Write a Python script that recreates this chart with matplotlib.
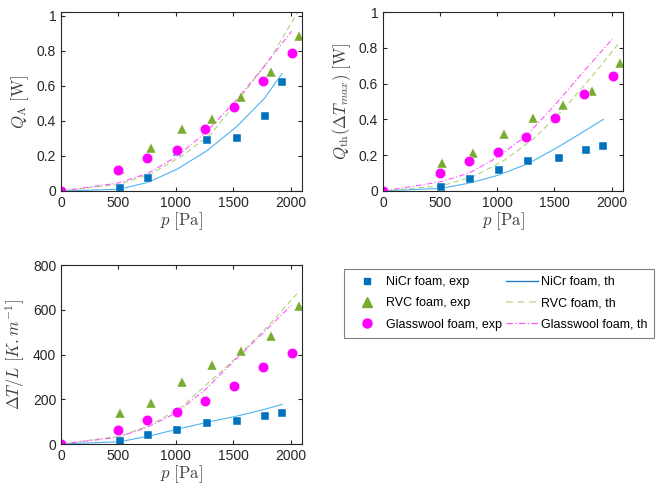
import matplotlib.pyplot as plt
from matplotlib.lines import Line2D

plt.rcParams['font.family'] = ['Liberation Sans', 'DejaVu Sans']
plt.rcParams['mathtext.fontset'] = 'cm'

# pressure points [Pa]
p_nicr = [0, 511, 762, 1013, 1273, 1536, 1775, 1927]
p_rvc = [0, 517, 788, 1057, 1314, 1571, 1828, 2073]
p_glass = [0, 496, 753, 1007, 1255, 1504, 1758, 2009]

# Q_A [W]
qa_nicr_exp = [0, 0.015, 0.072, 0.22, 0.29, 0.30, 0.43, 0.62]
qa_rvc_exp = [0, 0.125, 0.243, 0.354, 0.41, 0.534, 0.68, 0.884]
qa_glass_exp = [0, 0.12, 0.188, 0.236, 0.352, 0.481, 0.627, 0.785]
qa_nicr_th = [0, 0.01, 0.05, 0.125, 0.23, 0.37, 0.53, 0.67]
qa_rvc_th = [0, 0.04, 0.10, 0.20, 0.33, 0.54, 0.76, 1.03]
qa_glass_th = [0, 0.045, 0.10, 0.195, 0.33, 0.50, 0.70, 0.91]

# Q_th(dT_max) [W]
qt_nicr_exp = [0, 0.022, 0.067, 0.117, 0.167, 0.186, 0.229, 0.253]
qt_rvc_exp = [0, 0.154, 0.21, 0.32, 0.407, 0.481, 0.556, 0.716]
qt_glass_exp = [0, 0.10, 0.165, 0.219, 0.30, 0.407, 0.543, 0.641]
qt_nicr_th = [0, 0.015, 0.045, 0.089, 0.154, 0.247, 0.34, 0.40]
qt_rvc_th = [0, 0.03, 0.08, 0.17, 0.29, 0.45, 0.64, 0.833]
qt_glass_th = [0, 0.05, 0.10, 0.19, 0.31, 0.48, 0.67, 0.85]

# dT/L [K/m]
dt_nicr_exp = [0, 15, 39, 64, 92, 101, 123, 137]
dt_rvc_exp = [0, 137, 183, 278, 355, 416, 482, 617]
dt_glass_exp = [0, 64, 107, 141, 193, 260, 346, 407]
dt_nicr_th = [0, 10, 35, 66, 97, 125, 155, 177]
dt_rvc_th = [0, 35, 86, 168, 287, 406, 540, 681]
dt_glass_th = [0, 30, 75, 140, 242, 369, 495, 621]

blue = '#0072BD'
blue_th = '#4DB3F0'
green = '#77AC30'
green_th = '#A8D878'
magenta = '#FF00FF'
magenta_th = '#FF55FF'

fig = plt.figure(figsize=(6.64, 4.9), dpi=100)
W, H = 664, 490
def box(l, r, t, b):
    return [l / W, 1 - b / H, (r - l) / W, (b - t) / H]

ax1 = fig.add_axes(box(61, 302, 12, 191))
ax2 = fig.add_axes(box(383, 623, 12, 191))
ax3 = fig.add_axes(box(61, 302, 265, 444))

panels = [
    (ax1, qa_nicr_exp, qa_rvc_exp, qa_glass_exp, qa_nicr_th, qa_rvc_th, qa_glass_th),
    (ax2, qt_nicr_exp, qt_rvc_exp, qt_glass_exp, qt_nicr_th, qt_rvc_th, qt_glass_th),
    (ax3, dt_nicr_exp, dt_rvc_exp, dt_glass_exp, dt_nicr_th, dt_rvc_th, dt_glass_th),
]
for ax, ne, re, ge, nt, rt, gt in panels:
    ax.plot(p_nicr, nt, '-', color=blue_th, lw=0.8)
    ax.plot(p_rvc, rt, '--', color=green_th, lw=0.8, dashes=(5, 3))
    ax.plot(p_glass, gt, '-.', color=magenta_th, lw=0.8, dashes=(5, 2, 1, 2))
    ax.plot(p_nicr, ne, 's', color=blue, ms=5.5, mec='white', mew=0.3)
    ax.plot(p_rvc, re, '^', color=green, ms=7.5, mec='white', mew=0.3)
    ax.plot(p_glass, ge, 'o', color=magenta, ms=7.5, mec='white', mew=0.3)
    ax.set_xlim(0, 2100)
    ax.set_xticks([0, 500, 1000, 1500, 2000])
    ax.tick_params(direction='in', top=True, right=True, labelsize=10,
                   length=3, colors='#262626')
    for s in ax.spines.values():
        s.set_linewidth(0.8)
        s.set_color('#262626')
    ax.set_xlabel(r'$p\ [\mathrm{Pa}]$', fontsize=12, color='#404040', labelpad=0)

ax1.set_ylim(0, 1.02)
ax1.set_yticks([0, 0.2, 0.4, 0.6, 0.8, 1])
ax1.set_yticklabels(['0', '0.2', '0.4', '0.6', '0.8', '1'])
ax1.set_ylabel(r'$Q_{\mathrm{A}}\ [\mathrm{W}]$', fontsize=12, color='#404040')

ax2.set_ylim(0, 1)
ax2.set_yticks([0, 0.2, 0.4, 0.6, 0.8, 1])
ax2.set_yticklabels(['0', '0.2', '0.4', '0.6', '0.8', '1'])
ax2.set_ylabel(r'$Q_{\mathrm{th}}(\Delta T_{max})\ [\mathrm{W}]$', fontsize=12, color='#404040')

ax3.set_ylim(0, 800)
ax3.set_yticks([0, 200, 400, 600, 800])
ax3.set_ylabel(r'$\Delta T/L\ [K.m^{-1}]$', fontsize=12, color='#404040')

handles = [
    Line2D([], [], ls='none', marker='s', color=blue, ms=4.5),
    Line2D([], [], ls='none', marker='^', color=green, ms=6.5),
    Line2D([], [], ls='none', marker='o', color=magenta, ms=6.5),
    Line2D([], [], ls='-', color='#1F7FC8', lw=1.0),
    Line2D([], [], ls='--', color='#C8DDB5', lw=1.2, dashes=(4, 3)),
    Line2D([], [], ls='-.', color=magenta_th, lw=0.9, dashes=(5, 2, 1, 2)),
]
labels = ['NiCr foam, exp', 'RVC foam, exp', 'Glasswool foam, exp',
          'NiCr foam, th', 'RVC foam, th', 'Glasswool foam, th']
leg = fig.legend(handles, labels, ncol=2, loc='upper left',
                 bbox_to_anchor=(344 / W, 1 - 269 / H), fontsize=9,
                 fancybox=False, edgecolor='#808080', framealpha=1,
                 handlelength=2.6, handletextpad=0.2, columnspacing=0.3,
                 labelspacing=0.75, borderpad=0.55, borderaxespad=0)
leg.get_frame().set_linewidth(0.8)

fig.savefig('out.png', dpi=100)
